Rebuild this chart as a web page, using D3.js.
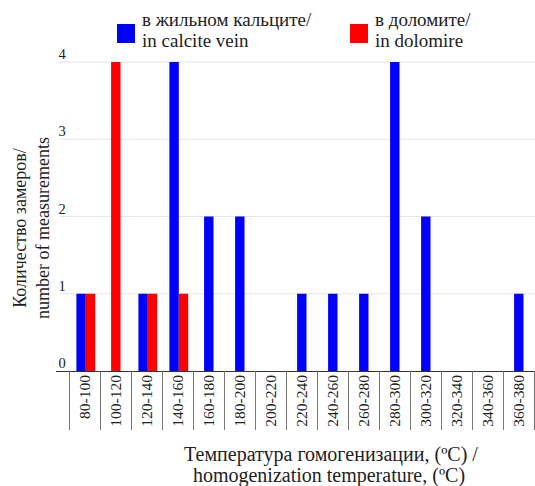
<!DOCTYPE html>
<html>
<head>
<meta charset="utf-8">
<script src="https://cdn.jsdelivr.net/npm/d3@7"></script>
<style>
  html, body { margin: 0; padding: 0; background: #fff; }
</style>
</head>
<body>
<svg id="chart" width="535" height="486"></svg>
<script>
// Temperature intervals (°C)
const categories = ["80-100","100-120","120-140","140-160","160-180","180-200","200-220",
  "220-240","240-260","260-280","280-300","300-320","320-340","340-360","360-380"];
// Number of measurements in calcite vein
const calciteVein = [1,0,1,4,2,2,0,1,1,1,4,2,0,0,1];
// Number of measurements in dolomite
const dolomite = [1,4,1,1,0,0,0,0,0,0,0,0,0,0,0];
const yTicks = [0,1,2,3,4];

const seriesNames = ["в жильном кальците/|in calcite vein", "в доломите/|in dolomire"];
const seriesColors = ["#0000ff", "#ff0000"];
const seriesValues = [calciteVein, dolomite];
const FONT = "'Liberation Serif', Tinos, 'Times New Roman', 'DejaVu Serif', serif";

const svg = d3.select("#chart");
const plot = { left: 69.3, right: 534.3, top: 62, bottom: 371 };

const x = d3.scaleBand().domain(categories).range([plot.left, plot.right]).padding(0);
const y = d3.scaleLinear().domain([0, 4]).range([plot.bottom, plot.top]);
const barW = 9.4;

// horizontal gridlines
svg.append("g").selectAll("line").data(yTicks.filter(d => d > 0)).join("line")
  .attr("x1", 60).attr("x2", 535)
  .attr("y1", d => y(d)).attr("y2", d => y(d))
  .attr("stroke", "#e6e6e6").attr("stroke-width", 1);

// y tick labels, set just above their gridlines
svg.append("g").selectAll("text").data(yTicks).join("text")
  .attr("font-family", FONT)
  .attr("x", 62).attr("y", d => y(d) - 3)
  .attr("text-anchor", "middle")
  .attr("font-size", 14.5).attr("fill", "#222")
  .text(d => d);

// bars: only the non-zero series of each interval, packed side by side and centred
const bars = [];
categories.forEach((c, i) => {
  const present = seriesValues.map((v, s) => ({ s, v: v[i] })).filter(d => d.v > 0);
  const start = x(c) + x.bandwidth() / 2 - present.length * barW / 2 + (present.length > 1 ? 1 : 0);
  present.forEach((d, k) => bars.push({ c, s: d.s, v: d.v, x0: start + k * barW }));
});
svg.append("g").selectAll("rect").data(bars).join("rect")
  .attr("x", d => d.x0).attr("width", barW)
  .attr("y", d => y(d.v)).attr("height", d => y(0) - y(d.v))
  .attr("fill", d => seriesColors[d.s]);

// baseline
svg.append("line").attr("x1", 56).attr("x2", 535)
  .attr("y1", y(0) + 0.5).attr("y2", y(0) + 0.5)
  .attr("stroke", "#333").attr("stroke-width", 1);

// category dividers below the baseline
const bounds = categories.map(c => x(c)).concat([plot.right]);
svg.append("g").selectAll("line").data(bounds).join("line")
  .attr("x1", d => Math.round(d) + 0.5).attr("x2", d => Math.round(d) + 0.5)
  .attr("y1", y(0)).attr("y2", 430)
  .attr("stroke", "#777").attr("stroke-width", 1);

// rotated interval labels
svg.append("g").selectAll("text").data(categories).join("text")
  .attr("font-family", FONT)
  .attr("transform", d => `translate(${x(d) + x.bandwidth() / 2 + 5.5},375) rotate(-90)`)
  .attr("text-anchor", "end")
  .attr("font-size", 15.5).attr("fill", "#222")
  .text(d => d);

// y axis title
const yTitle = svg.append("text")
  .attr("font-family", FONT)
  .attr("transform", "translate(0,228) rotate(-90)")
  .attr("text-anchor", "middle").attr("font-size", 18).attr("fill", "#222");
yTitle.append("tspan").attr("x", 0).attr("y", 26).text("Количество замеров/");
yTitle.append("tspan").attr("x", 0).attr("y", 49).text("number of measurements");

// x axis title
const xTitle = svg.append("text").attr("text-anchor", "middle")
  .attr("font-family", FONT)
  .attr("font-size", 20).attr("fill", "#222");
xTitle.append("tspan").attr("x", 331).attr("y", 461).text("Температура гомогенизации, (ºC) /");
xTitle.append("tspan").attr("x", 329).attr("y", 482).text("homogenization temperature, (ºC)");

// legend
const legendX = [117, 350];
seriesNames.forEach((name, i) => {
  const g = svg.append("g").attr("transform", `translate(${legendX[i]},0)`);
  g.append("rect").attr("x", 0).attr("y", 24).attr("width", 18).attr("height", 19)
    .attr("fill", seriesColors[i]);
  const t = g.append("text").attr("font-family", FONT).attr("font-size", 19).attr("fill", "#222");
  name.split("|").forEach((line, k) => {
    t.append("tspan").attr("x", 25).attr("y", 26 + k * 21).text(line);
  });
});
</script>
</body>
</html>
